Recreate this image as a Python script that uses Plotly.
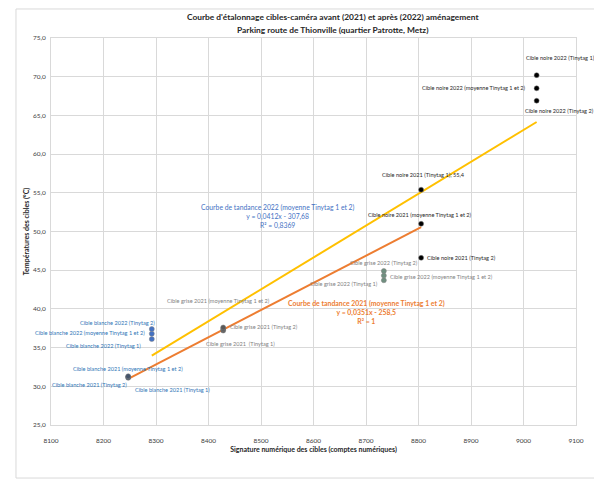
import plotly.graph_objects as go

# ---------------- data ----------------
# Cible blanche
blanche_2021_x = [8247, 8247, 8247]
blanche_2021_y = [31.1, 31.2, 31.3]          # Tinytag 1, moyenne, Tinytag 2
blanche_2022_x = [8292, 8292, 8292]
blanche_2022_y = [36.1, 36.8, 37.4]          # Tinytag 1, moyenne, Tinytag 2
# Cible grise
grise_2021_x = [8428, 8428, 8428]
grise_2021_y = [37.2, 37.4, 37.6]            # Tinytag 1, moyenne, Tinytag 2
grise_2022_x = [8734, 8734, 8734]
grise_2022_y = [43.7, 44.3, 44.9]            # Tinytag 1, moyenne, Tinytag 2
# Cible noire
noire_2021_x = [8805, 8805, 8805]
noire_2021_y = [55.4, 51.0, 46.6]            # Tinytag 1, moyenne, Tinytag 2
noire_2022_x = [9025, 9025, 9025]
noire_2022_y = [70.2, 68.5, 66.9]            # Tinytag 1, moyenne, Tinytag 2

# Trendlines (slope, intercept)
trend_2021 = [0.0351, -258.5]
trend_2022 = [0.0412, -307.68]

x_ticks = [8100, 8200, 8300, 8400, 8500, 8600, 8700, 8800, 8900, 9000, 9100]
y_ticks = [25, 30, 35, 40, 45, 50, 55, 60, 65, 70, 75]

title_lines = ["Courbe d'étalonnage cibles-caméra avant (2021) et après (2022) aménagement",
               "Parking route de Thionville (quartier Patrotte, Metz)"]

FONT = "Lato, Roboto, sans-serif"
BLUE_TXT = "#2E75B6"
GREY_TXT = "#7F7F7F"
BLACK_TXT = "#262626"

fig = go.Figure()

def trend(xs, coef):
    x0, x1 = min(xs), max(xs)
    return [x0, x1], [coef[0] * x0 + coef[1], coef[0] * x1 + coef[1]]

tx, ty = trend(blanche_2021_x + grise_2021_x + noire_2021_x, trend_2021)
fig.add_trace(go.Scatter(x=tx, y=ty, mode="lines", line=dict(color="#ED7D31", width=2), showlegend=False, hoverinfo="skip"))
tx, ty = trend(blanche_2022_x + grise_2022_x + noire_2022_x, trend_2022)
fig.add_trace(go.Scatter(x=tx, y=ty, mode="lines", line=dict(color="#FFC000", width=2), showlegend=False, hoverinfo="skip"))

series = [
    (blanche_2021_x, blanche_2021_y, "#44546A"),
    (blanche_2022_x, blanche_2022_y, "#4472C4"),
    (grise_2021_x, grise_2021_y, "#595959"),
    (grise_2022_x, grise_2022_y, "#6F8F7F"),
    (noire_2021_x, noire_2021_y, "#000000"),
    (noire_2022_x, noire_2022_y, "#000000"),
]
for xs, ys, c in series:
    fig.add_trace(go.Scatter(x=xs, y=ys, mode="markers",
                             marker=dict(color=c, size=5, line=dict(color="#808080", width=0.5)),
                             showlegend=False))

LS = 5.6

def lab(x, y, text, color, xs=0, ys=0, anchor="center"):
    fig.add_annotation(x=x, y=y, text=text, showarrow=False, xshift=xs, yshift=ys,
                       xanchor=anchor, yanchor="middle",
                       font=dict(family=FONT, size=LS, color=color))

# blanche labels
lab(blanche_2022_x[2], blanche_2022_y[2], "Cible blanche 2022 (Tinytag 2)", BLUE_TXT, -34, 7)
lab(blanche_2022_x[1], blanche_2022_y[1], "Cible blanche 2022 (moyenne Tinytag 1 et 2)", BLUE_TXT, -5, 1, "right")
lab(blanche_2022_x[0], blanche_2022_y[0], "Cible blanche 2022 (Tinytag 1)", BLUE_TXT, -9, -6, "right")
lab(blanche_2021_x[1], blanche_2021_y[1], "Cible blanche 2021 (moyenne Tinytag 1 et 2)", BLUE_TXT, 0, 9)
lab(blanche_2021_x[2], blanche_2021_y[2], "Cible blanche 2021 (Tinytag 2)", BLUE_TXT, 1, -8, "right")
lab(blanche_2021_x[0], blanche_2021_y[0], "Cible blanche 2021 (Tinytag 1)", BLUE_TXT, 5, -12, "left")
# grise labels
lab(grise_2021_x[1], grise_2021_y[1], "Cible grise 2021 (moyenne Tinytag 1 et 2)", GREY_TXT, -5, 29)
lab(grise_2021_x[2], grise_2021_y[2], "Cible grise 2021 (Tinytag 2)", GREY_TXT, 5, 1, "left")
lab(grise_2021_x[0], grise_2021_y[0], "Cible grise 2021  (Tinytag 1)", GREY_TXT, 17, -13)
lab(grise_2022_x[2], grise_2022_y[2], "Cible grise 2022 (Tinytag 2)", GREY_TXT, 0, 8)
lab(grise_2022_x[1], grise_2022_y[1], "Cible grise 2022 (moyenne Tinytag 1 et 2)", GREY_TXT, 4, -1, "left")
lab(grise_2022_x[0], grise_2022_y[0], "Cible grise 2022 (Tinytag 1)", GREY_TXT, -4, -3, "right")
# noire labels
lab(noire_2021_x[0], noire_2021_y[0], "Cible noire 2021 (Tinytag 1); 55,4", BLACK_TXT, 2, 15)
lab(noire_2021_x[1], noire_2021_y[1], "Cible noire 2021 (moyenne Tinytag 1 et 2)", BLACK_TXT, -1, 9)
lab(noire_2021_x[2], noire_2021_y[2], "Cible noire 2021 (Tinytag 2)", BLACK_TXT, 4, 0, "left")
lab(noire_2022_x[0], noire_2022_y[0], "Cible noire 2022 (Tinytag 1)", BLACK_TXT, 24, 18)
lab(noire_2022_x[1], noire_2022_y[1], "Cible noire 2022 (moyenne Tinytag 1 et 2)", BLACK_TXT, -9, 1, "right")
lab(noire_2022_x[2], noire_2022_y[2], "Cible noire 2022 (Tinytag 2)", BLACK_TXT, 23, -10)

def fmt(v):
    return ("%g" % v).replace(".", ",")

fig.add_annotation(x=8532, y=52.0, showarrow=False, align="center",
                   text="Courbe de tandance 2022 (moyenne Tinytag 1 et 2)<br>y = %sx - %s<br>R² = 0,8369"
                        % (fmt(trend_2022[0]), fmt(-trend_2022[1])),
                   font=dict(family=FONT, size=6.8, color="#4472C4"))
fig.add_annotation(x=8700, y=39.6, showarrow=False, align="center",
                   text="<b>Courbe de tandance 2021 (moyenne Tinytag 1 et 2)<br>y = %sx - %s<br>R² = 1</b>"
                        % (fmt(trend_2021[0]), fmt(-trend_2021[1])),
                   font=dict(family=FONT, size=6.9, color="#ED7D31"))

# chart title (two lines, Excel-like spacing)
for i, (line, yp) in enumerate(zip(title_lines, [1.054, 1.0207])):
    fig.add_annotation(xref="paper", yref="paper", x=0.537, y=yp, showarrow=False,
                       xanchor="center", yanchor="middle", text="<b>%s</b>" % line,
                       font=dict(family=FONT, size=8.4, color="#262626"))

fig.add_shape(type="rect", xref="paper", yref="paper", x0=-0.0667, x1=1.0476, y0=-0.137, y1=1.075,
              line=dict(color="#D9D9D9", width=1), layer="below")

# the page body has an 8px margin, so the figure is sized/offset accordingly
fig.update_layout(
    width=594, height=471,
    margin=dict(l=43, r=26, t=30, b=54),
    paper_bgcolor="white", plot_bgcolor="white",
    font=dict(family=FONT, size=7, color="#595959"),
    xaxis=dict(range=[8100, 9100], tickvals=x_ticks, ticktext=[str(v) for v in x_ticks],
               showgrid=True, gridcolor="#D9D9D9", gridwidth=1, zeroline=False,
               showline=True, linecolor="#D9D9D9", mirror=True, ticks="", ticklen=0,
               ticklabelstandoff=9,
               tickfont=dict(size=6.5, color="#404040"),
               title=dict(text="<b>Signature numérique des cibles (comptes numériques)</b>",
                          font=dict(size=7, color="#262626"), standoff=4)),
    yaxis=dict(range=[25, 75], tickvals=y_ticks, ticktext=[("%.1f" % v).replace(".", ",") for v in y_ticks],
               showgrid=True, gridcolor="#D9D9D9", gridwidth=1, zeroline=False,
               showline=True, linecolor="#D9D9D9", mirror=True, ticks="", ticklen=0,
               ticklabelstandoff=3,
               tickfont=dict(size=6.5, color="#404040"),
               title=dict(text="<b>Températures des cibles (°C)</b>",
                          font=dict(size=7, color="#262626"), standoff=2)),
)

fig.write_html("out.html")
